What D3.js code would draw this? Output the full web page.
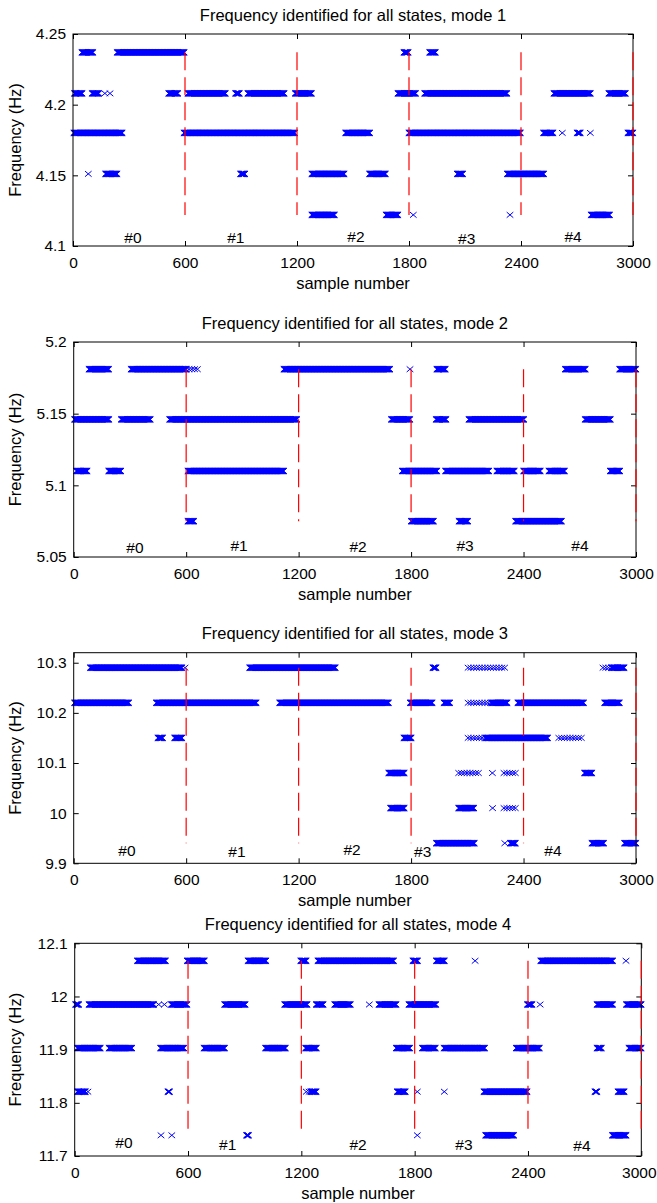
<!DOCTYPE html>
<html>
<head>
<meta charset="utf-8">
<script src="https://cdn.jsdelivr.net/npm/d3@7"></script>
<style>
  body { margin: 0; background: #fff; }
  svg { display: block; font-family: "Liberation Sans", Arial, sans-serif; }
</style>
</head>
<body>
<div id="chart"></div>
<script>
// shared x axis stuff
const sampleTicks = [0, 600, 1200, 1800, 2400, 3000];
const stateBounds = [600, 1200, 1800, 2400, 3000];
const stateNames = ["#0", "#1", "#2", "#3", "#4"];

// mode 1 -- runs are [levelIndex, firstSample, lastSample]
const mode1Levels = [4.122, 4.151, 4.18, 4.208, 4.237];
const mode1Ticks = [4.1, 4.15, 4.2, 4.25];
const mode1Runs = [
  [4, 48, 107], [4, 237, 596], [4, 1773, 1795], [4, 1911, 1941],
  [3, 8, 48], [3, 103, 138], [3, 513, 561], [3, 616, 816], [3, 871, 891], [3, 937, 1132],
  [3, 1191, 1277], [3, 1741, 1835], [3, 1884, 2325], [3, 2577, 2771], [3, 2871, 2959],
  [2, 5, 263], [2, 595, 1188], [2, 1461, 1589], [2, 1800, 2396], [2, 2521, 2571],
  [2, 2701, 2718], [2, 2973, 3000],
  [1, 175, 236], [1, 898, 920], [1, 1280, 1453], [1, 1589, 1673], [1, 2059, 2088], [1, 2327, 2522],
  [0, 1280, 1400], [0, 1678, 1741], [0, 2776, 2875]
];
const mode1Sparse = [];
const mode1Singles = [[3, 171], [3, 198], [2, 2621], [2, 2771], [1, 82], [0, 1823], [0, 2341]];
const mode1LabelX = [321, 872, 1516, 2109, 2679];
const mode1LabelY = [4.106, 4.106, 4.107, 4.105, 4.107];

// mode 2
const mode2Levels = [5.075, 5.11, 5.146, 5.181];
const mode2Ticks = [5.05, 5.1, 5.15, 5.2];
const mode2Runs = [
  [3, 82, 187], [3, 307, 600], [3, 1122, 1686], [3, 1938, 1983], [3, 2623, 2729], [3, 2913, 3000],
  [2, 5, 187], [2, 254, 409], [2, 512, 1191], [2, 1695, 1793], [2, 1934, 1986], [2, 2109, 2401],
  [2, 2729, 2863],
  [1, 15, 71], [1, 187, 252], [1, 610, 1120], [1, 1753, 1938], [1, 1984, 2214], [1, 2258, 2351],
  [1, 2401, 2489], [1, 2536, 2619], [1, 2863, 2913],
  [0, 610, 640], [0, 1801, 1920], [0, 2056, 2102], [0, 2358, 2602]
];
const mode2Sparse = [[3, 600, 660]];
const mode2Singles = [[3, 1794]];
const mode2LabelX = [327, 882, 1517, 2088, 2701];
const mode2LabelY = [5.0563, 5.0579, 5.0574, 5.058, 5.058];

// mode 3
const mode3Levels = [9.94, 10.01, 10.08, 10.15, 10.22, 10.29];
const mode3Ticks = [9.9, 10, 10.1, 10.2, 10.3];
const mode3Runs = [
  [5, 89, 578], [5, 939, 1396], [5, 1917, 1933], [5, 2870, 2937],
  [4, 5, 293], [4, 441, 974], [4, 1099, 1680], [4, 1796, 1912], [4, 1976, 2006], [4, 2230, 2312],
  [4, 2370, 2721], [4, 2833, 2911],
  [3, 450, 475], [3, 539, 578], [3, 1762, 1800], [3, 2200, 2529],
  [2, 1681, 1764], [2, 2726, 2765],
  [1, 1691, 1764], [1, 2054, 2134],
  [0, 1935, 2137], [0, 2330, 2356], [0, 2765, 2828], [0, 2939, 3000]
];
const mode3Sparse = [
  [5, 2104, 2312], [5, 2824, 2870], [4, 2104, 2230], [3, 2104, 2200], [3, 2588, 2717],
  [2, 2054, 2169], [2, 2296, 2365], [1, 2296, 2361]
];
const mode3Singles = [[5, 594], [2, 2234], [1, 2235], [0, 2300]];
const mode3LabelX = [284, 871, 1485, 1862, 2557];
const mode3LabelY = [9.9245, 9.923, 9.9265, 9.923, 9.9245];

// mode 4
const mode4Levels = [11.739, 11.821, 11.903, 11.985, 12.067];
const mode4Ticks = [11.7, 11.8, 11.9, 12, 12.1];
const mode4Runs = [
  [4, 332, 480], [4, 596, 686], [4, 918, 1013], [4, 1197, 1226], [4, 1288, 1689], [4, 1791, 1816],
  [4, 1915, 1957], [4, 2468, 2849],
  [3, 5, 21], [3, 76, 418], [3, 512, 594], [3, 794, 903], [3, 1112, 1230], [3, 1279, 1315],
  [3, 1377, 1459], [3, 1611, 1701], [3, 1770, 1913], [3, 2397, 2421], [3, 2766, 2849], [3, 2921, 3000],
  [2, 15, 135], [2, 182, 303], [2, 455, 577], [2, 685, 794], [2, 1011, 1115], [2, 1223, 1279],
  [2, 1703, 1774], [2, 1841, 1909], [2, 1956, 2171], [2, 2338, 2460], [2, 2766, 2788], [2, 2935, 3000],
  [1, 15, 55], [1, 494, 503], [1, 1250, 1279], [1, 1708, 1750], [1, 2167, 2395], [1, 2755, 2765],
  [1, 2877, 2910],
  [0, 910, 920], [0, 2176, 2324], [0, 2847, 2919]
];
const mode4Sparse = [[1, 55, 75], [1, 1226, 1250]];
const mode4Singles = [
  [4, 2120], [4, 2919], [3, 445], [3, 475], [3, 1560], [3, 2464],
  [1, 1814], [1, 1957], [0, 457], [0, 514], [0, 1814]
];
const mode4LabelX = [261, 810, 1500, 2061, 2686];
const mode4LabelY = [11.7244, 11.7207, 11.7207, 11.722, 11.7188];

const panels = [
  { mode: 1, left: 73, right: 633, top: 34, bottom: 246, yDomain: [4.1, 4.25],
    levels: mode1Levels, ticks: mode1Ticks, runs: mode1Runs, sparse: mode1Sparse, singles: mode1Singles,
    labelX: mode1LabelX, labelY: mode1LabelY },
  { mode: 2, left: 73.7, right: 636, top: 342, bottom: 557, yDomain: [5.05, 5.2],
    levels: mode2Levels, ticks: mode2Ticks, runs: mode2Runs, sparse: mode2Sparse, singles: mode2Singles,
    labelX: mode2LabelX, labelY: mode2LabelY },
  { mode: 3, left: 73.7, right: 636, top: 652.7, bottom: 863.3, yDomain: [9.9, 10.32],
    levels: mode3Levels, ticks: mode3Ticks, runs: mode3Runs, sparse: mode3Sparse, singles: mode3Singles,
    labelX: mode3LabelX, labelY: mode3LabelY },
  { mode: 4, left: 74.7, right: 641.3, top: 943.3, bottom: 1156, yDomain: [11.7, 12.1],
    levels: mode4Levels, ticks: mode4Ticks, runs: mode4Runs, sparse: mode4Sparse, singles: mode4Singles,
    labelX: mode4LabelX, labelY: mode4LabelY }
];

const W = 657, H = 1203;
const tickFont = 15.5, labelFont = 16.5;
const mh = 3.3, mv = 2.8; // half width / height of an x marker

const svg = d3.select("#chart").append("svg")
  .attr("width", W)
  .attr("height", H);

function xMarker(cx, cy) {
  return "M" + (cx - mh).toFixed(1) + "," + (cy - mv).toFixed(1) +
    "L" + (cx + mh).toFixed(1) + "," + (cy + mv).toFixed(1) +
    "M" + (cx - mh).toFixed(1) + "," + (cy + mv).toFixed(1) +
    "L" + (cx + mh).toFixed(1) + "," + (cy - mv).toFixed(1);
}

panels.forEach(function (p) {
  const x = d3.scaleLinear().domain([0, 3000]).range([p.left, p.right]);
  const y = d3.scaleLinear().domain(p.yDomain).range([p.bottom, p.top]);
  const g = svg.append("g");

  // markers, one path per panel
  let d = "";
  p.runs.forEach(function (r) {
    for (let s = r[1]; s <= r[2]; s += 2) d += xMarker(x(s), y(p.levels[r[0]]));
  });
  p.sparse.forEach(function (r) {
    for (let s = r[1]; s <= r[2]; s += 15) d += xMarker(x(s), y(p.levels[r[0]]));
  });
  p.singles.forEach(function (r) {
    d += xMarker(x(r[1]), y(p.levels[r[0]]));
  });
  g.append("path")
    .attr("d", d)
    .attr("fill", "none")
    .attr("stroke", "#0000ff")
    .attr("stroke-width", 1);

  // box + axes (ticks inside, mirrored)
  g.append("rect")
    .attr("x", p.left).attr("y", p.top)
    .attr("width", p.right - p.left).attr("height", p.bottom - p.top)
    .attr("fill", "none").attr("stroke", "#000").attr("stroke-width", 1);

  g.append("g")
    .attr("transform", "translate(0," + p.bottom + ")")
    .call(d3.axisBottom(x).tickValues(sampleTicks).tickFormat(d3.format("d"))
      .tickSizeInner(-5).tickSizeOuter(0).tickPadding(10.5));
  g.append("g")
    .attr("transform", "translate(0," + p.top + ")")
    .call(d3.axisTop(x).tickValues(sampleTicks).tickFormat("").tickSizeInner(-5).tickSizeOuter(0));
  g.append("g")
    .attr("transform", "translate(" + p.left + ",0)")
    .call(d3.axisLeft(y).tickValues(p.ticks).tickFormat(d3.format("~g"))
      .tickSizeInner(-5).tickSizeOuter(0).tickPadding(7));
  g.append("g")
    .attr("transform", "translate(" + p.right + ",0)")
    .call(d3.axisRight(y).tickValues(p.ticks).tickFormat("").tickSizeInner(-5).tickSizeOuter(0));

  g.selectAll(".domain").remove();
  g.selectAll(".tick line").attr("stroke", "#000");
  g.selectAll(".tick text").attr("fill", "#000").style("font-size", tickFont + "px");

  // keep the last x label inside the page on the widest panel
  g.selectAll(".tick text")
    .filter(function (t) { return t === 3000 && p.right > 640; })
    .attr("dx", -2.5);

  // state boundaries
  const ext = d3.extent(p.levels);
  g.selectAll(".bound")
    .data(stateBounds)
    .enter()
    .append("line")
    .attr("class", "bound")
    .attr("x1", function (b) { return x(b); })
    .attr("x2", function (b) { return x(b); })
    .attr("y1", y(ext[1]))
    .attr("y2", y(ext[0]))
    .attr("stroke", "#ff0000")
    .attr("stroke-width", 1.2)
    .attr("stroke-dasharray", "18,7");

  // state names
  g.selectAll(".state")
    .data(stateNames)
    .enter()
    .append("text")
    .attr("x", function (s, i) { return x(p.labelX[i]); })
    .attr("y", function (s, i) { return y(p.labelY[i]); })
    .attr("dy", "0.35em")
    .attr("text-anchor", "middle")
    .style("font-size", tickFont + "px")
    .text(function (s) { return s; });

  // titles and axis labels
  const cx = (p.left + p.right) / 2;
  g.append("text")
    .attr("x", cx).attr("y", p.top - 13.5)
    .attr("text-anchor", "middle")
    .style("font-size", labelFont + "px")
    .text("Frequency identified for all states, mode " + p.mode);
  g.append("text")
    .attr("x", cx).attr("y", p.bottom + 43)
    .attr("text-anchor", "middle")
    .style("font-size", labelFont + "px")
    .text("sample number");
  g.append("text")
    .attr("transform", "translate(21," + ((p.top + p.bottom) / 2) + ") rotate(-90)")
    .attr("text-anchor", "middle")
    .style("font-size", labelFont + "px")
    .text("Frequency (Hz)");
});
</script>
</body>
</html>
